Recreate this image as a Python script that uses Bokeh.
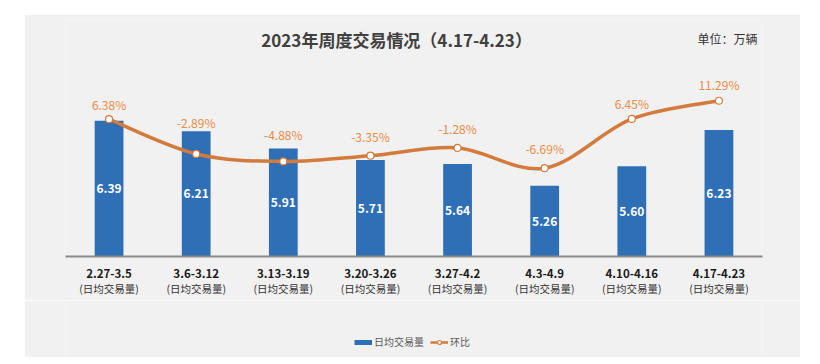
from bokeh.plotting import figure
from bokeh.layouts import column
from bokeh.models import (Range1d, LinearAxis, FixedTicker, Label, Legend,
                          LegendItem, ColumnDataSource)
from bokeh.embed import file_html
from bokeh.resources import INLINE
from bokeh.core.properties import value

# ---------------- data ----------------
weeks = ["2.27-3.5", "3.6-3.12", "3.13-3.19", "3.20-3.26",
         "3.27-4.2", "4.3-4.9", "4.10-4.16", "4.17-4.23"]
sub_label = "(日均交易量)"
daily_volume = [6.39, 6.21, 5.91, 5.71, 5.64, 5.26, 5.60, 6.23]
wow_pct = [6.38, -2.89, -4.88, -3.35, -1.28, -6.69, 6.45, 11.29]
title_text = "2023年周度交易情况（4.17-4.23）"
unit_text = "单位：万辆"
bar_name = "日均交易量"
line_name = "环比"

# ---------------- style ----------------
FONT = "Noto Sans CJK SC"
BLUE = "#2E6FB5"
ORANGE_LINE = "#D37B3C"
ORANGE_TEXT = "#EC8B47"
BG = "#F1F1F1"
Y0, Y1 = 4.03, 8.134
P0, P1 = -30.24, 32.69
pct_label_gap = [15, 31, 27, 19, 19, 20, 15, 16]
TITLE_POS = (3.80, 7.80)
UNIT_POS = (7.254, 7.821)

n = len(weeks)
xs = [i + 0.5 for i in range(n)]   # category slot centres

src = ColumnDataSource(dict(
    x=xs,
    vol=daily_volume,
    mid=[(v + Y0) / 2 for v in daily_volume],
    vol_txt=[f"{v:.2f}" for v in daily_volume],
    pct=wow_pct,
    pct_txt=[f"{v:.2f}%" for v in wow_pct],
    gap=[-g for g in pct_label_gap],
))

# smooth (Catmull-Rom -> cubic Bezier) segments through the data points
seg = dict(x0=[], y0=[], x1=[], y1=[], cx0=[], cy0=[], cx1=[], cy1=[])
for i in range(n - 1):
    a = max(i - 1, 0)
    b = min(i + 2, n - 1)
    seg["x0"].append(xs[i]); seg["y0"].append(wow_pct[i])
    seg["x1"].append(xs[i + 1]); seg["y1"].append(wow_pct[i + 1])
    seg["cx0"].append(xs[i] + (xs[i + 1] - xs[a]) / 6)
    seg["cy0"].append(wow_pct[i] + (wow_pct[i + 1] - wow_pct[a]) / 6)
    seg["cx1"].append(xs[i + 1] - (xs[b] - xs[i]) / 6)
    seg["cy1"].append(wow_pct[i + 1] - (wow_pct[b] - wow_pct[i]) / 6)
seg_src = ColumnDataSource(seg)

p = figure(x_range=Range1d(0, n), y_range=Range1d(Y0, Y1),
           width=776, height=286, output_backend="svg", toolbar_location=None,
           y_axis_location=None,
           min_border_left=41, min_border_right=38, min_border_top=6,
           min_border_bottom=44,
           background_fill_color=BG, border_fill_color=BG,
           outline_line_color=None)
p.margin = (14, 0, 0, 24)
p.extra_y_ranges = {"pct": Range1d(P0, P1)}
p.grid.visible = False

ax = p.xaxis[0]
ax.ticker = FixedTicker(ticks=xs)
ax.major_label_overrides = dict(zip(xs, weeks))
ax.axis_line_color = "#8A8A8A"
ax.axis_line_width = 2
ax.major_tick_line_color = None
ax.minor_tick_line_color = None
ax.major_label_standoff = 6
ax.major_label_text_font = FONT
ax.major_label_text_font_size = "11.5px"
ax.major_label_text_font_style = "bold"
ax.major_label_text_color = "#1A1A1A"

ax2 = LinearAxis(ticker=FixedTicker(ticks=xs),
                 major_label_overrides={x: sub_label for x in xs},
                 axis_line_color=None, major_tick_line_color=None,
                 minor_tick_line_color=None, major_label_standoff=-6,
                 major_label_text_font=FONT,
                 major_label_text_font_size="10.5px",
                 major_label_text_color="#333333")
p.add_layout(ax2, "below")

p.vbar(x="x", top="vol", width=0.33, source=src, fill_color=BLUE,
       line_color=None)
p.text(x="x", y="mid", text="vol_txt", source=src, text_color="white",
       text_font=value(FONT), text_font_size="12px", text_font_style="bold",
       text_align="center", text_baseline="middle")

p.bezier(x0="x0", y0="y0", x1="x1", y1="y1", cx0="cx0", cy0="cy0",
         cx1="cx1", cy1="cy1", source=seg_src, y_range_name="pct",
         line_color=ORANGE_LINE, line_width=3.5)
p.scatter(x="x", y="pct", source=src, y_range_name="pct", size=7,
          fill_color="white", line_color=ORANGE_LINE, line_width=1.2)
p.text(x="x", y="pct", text="pct_txt", source=src, y_range_name="pct",
       y_offset="gap", text_color=ORANGE_TEXT, text_font=value(FONT),
       text_font_size="12px", text_align="center", text_baseline="middle")

p.add_layout(Label(x=TITLE_POS[0], y=TITLE_POS[1], text=title_text,
                   text_align="center", text_baseline="middle",
                   text_font=FONT, text_font_size="17px", text_font_style="bold",
                   text_color="#404040"))
p.add_layout(Label(x=UNIT_POS[0], y=UNIT_POS[1], text=unit_text,
                   text_align="left", text_baseline="middle",
                   text_font=FONT, text_font_size="12px",
                   text_color="#333333"))

# ---------------- legend strip (separate small figure) ----------------
q = figure(x_range=Range1d(0, 1), y_range=Range1d(0, 1),
           width=776, height=57, output_backend="svg", toolbar_location=None,
           x_axis_location=None, y_axis_location=None,
           min_border=0, background_fill_color=BG, border_fill_color=BG,
           outline_line_color=None)
q.margin = (0, 0, 0, 24)
q.grid.visible = False
# legend proxies: kept outside the visible range so only the legend shows them
bar_proxy = q.line(x=[-3, -2], y=[0.5, 0.5], line_color=BLUE, line_width=5)
line_proxy = q.line(x=[-3, -2], y=[0.5, 0.5], line_color=ORANGE_LINE,
                    line_width=2.5)
dot_proxy = q.scatter(x=[-3], y=[0.5], size=7, fill_color="white",
                      line_color=ORANGE_LINE, line_width=1.2)
legend = Legend(items=[LegendItem(label=bar_name, renderers=[bar_proxy]),
                       LegendItem(label=line_name,
                                  renderers=[line_proxy, dot_proxy])],
                orientation="horizontal", location=(289, 8),
                glyph_width=18, glyph_height=10, label_standoff=2, spacing=6,
                padding=0, margin=0, background_fill_alpha=0,
                border_line_color=None, label_text_font=FONT,
                label_text_font_size="10px", label_text_color="#595959")
q.add_layout(legend)

layout = column(p, q, spacing=0)
open("out.html", "w").write(file_html(layout, INLINE))
